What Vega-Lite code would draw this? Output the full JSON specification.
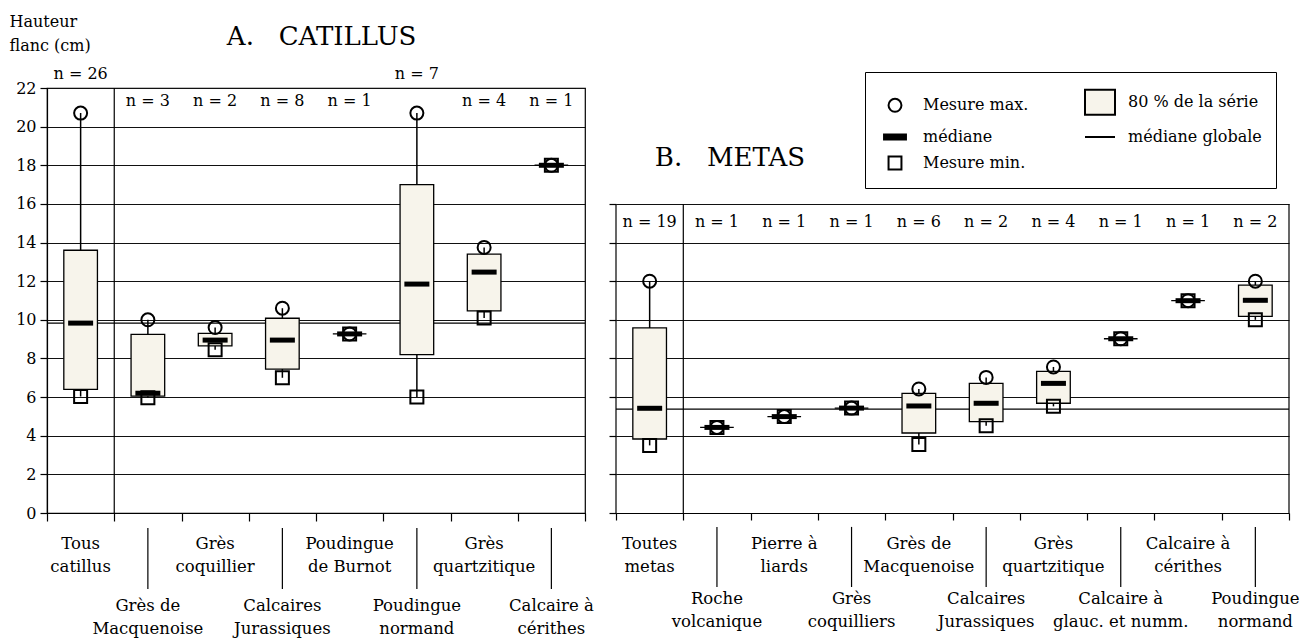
{
  "$schema": "https://vega.github.io/schema/vega-lite/v6.json",
  "padding": {"left": 8, "top": 12, "right": 10, "bottom": 0},
  "background": "white",
  "config": {
    "font": "DejaVu Serif",
    "view": {"stroke": "black", "strokeWidth": 1.2},
    "axis": {"domainColor": "black", "tickColor": "black", "gridColor": "#111111", "gridWidth": 1.1, "domainWidth": 1.2, "tickWidth": 1.2, "labelColor": "black", "titleColor": "black", "labelFont": "DejaVu Serif", "titleFont": "DejaVu Serif", "labelOverlap": false},
    "legend": {"labelFont": "DejaVu Serif"},
    "text": {"font": "DejaVu Serif", "color": "black"}
  },
  "datasets": {
    "catillus": [
      {"ordre": 1, "categorie": "Tous catillus", "etiquette": "Tous\ncatillus", "n": 26, "min": 6.03, "bas": 6.4, "mediane": 9.83, "haut": 13.6, "max": 20.7},
      {"ordre": 2, "categorie": "Grès de Macquenoise", "etiquette": "Grès de\nMacquenoise", "n": 3, "min": 5.97, "bas": 6.05, "mediane": 6.2, "haut": 9.25, "max": 10.0},
      {"ordre": 3, "categorie": "Grès coquillier", "etiquette": "Grès\ncoquillier", "n": 2, "min": 8.45, "bas": 8.65, "mediane": 8.95, "haut": 9.3, "max": 9.6},
      {"ordre": 4, "categorie": "Calcaires Jurassiques", "etiquette": "Calcaires\nJurassiques", "n": 8, "min": 7.0, "bas": 7.45, "mediane": 8.95, "haut": 10.08, "max": 10.6},
      {"ordre": 5, "categorie": "Poudingue de Burnot", "etiquette": "Poudingue\nde Burnot", "n": 1, "min": 9.27, "bas": 9.27, "mediane": 9.27, "haut": 9.27, "max": 9.27},
      {"ordre": 6, "categorie": "Poudingue normand", "etiquette": "Poudingue\nnormand", "n": 7, "min": 6.0, "bas": 8.2, "mediane": 11.85, "haut": 17.0, "max": 20.7},
      {"ordre": 7, "categorie": "Grès quartzitique", "etiquette": "Grès\nquartzitique", "n": 4, "min": 10.1, "bas": 10.46, "mediane": 12.47, "haut": 13.4, "max": 13.75},
      {"ordre": 8, "categorie": "Calcaire à cérithes", "etiquette": "Calcaire à\ncérithes", "n": 1, "min": 18.0, "bas": 18.0, "mediane": 18.0, "haut": 18.0, "max": 18.0}
    ],
    "metas": [
      {"ordre": 1, "categorie": "Toutes metas", "etiquette": "Toutes\nmetas", "n": 19, "min": 3.5, "bas": 3.83, "mediane": 5.42, "haut": 9.58, "max": 12.0},
      {"ordre": 2, "categorie": "Roche volcanique", "etiquette": "Roche\nvolcanique", "n": 1, "min": 4.43, "bas": 4.43, "mediane": 4.43, "haut": 4.43, "max": 4.43},
      {"ordre": 3, "categorie": "Pierre à liards", "etiquette": "Pierre à\nliards", "n": 1, "min": 4.99, "bas": 4.99, "mediane": 4.99, "haut": 4.99, "max": 4.99},
      {"ordre": 4, "categorie": "Grès coquilliers", "etiquette": "Grès\ncoquilliers", "n": 1, "min": 5.43, "bas": 5.43, "mediane": 5.43, "haut": 5.43, "max": 5.43},
      {"ordre": 5, "categorie": "Grès de Macquenoise", "etiquette": "Grès de\nMacquenoise", "n": 6, "min": 3.55, "bas": 4.14, "mediane": 5.54, "haut": 6.19, "max": 6.42},
      {"ordre": 6, "categorie": "Calcaires Jurassiques", "etiquette": "Calcaires\nJurassiques", "n": 2, "min": 4.52, "bas": 4.73, "mediane": 5.68, "haut": 6.71, "max": 7.02},
      {"ordre": 7, "categorie": "Grès quartzitique", "etiquette": "Grès\nquartzitique", "n": 4, "min": 5.52, "bas": 5.68, "mediane": 6.71, "haut": 7.33, "max": 7.56},
      {"ordre": 8, "categorie": "Calcaire à glauc. et numm.", "etiquette": "Calcaire à\nglauc. et numm.", "n": 1, "min": 9.02, "bas": 9.02, "mediane": 9.02, "haut": 9.02, "max": 9.02},
      {"ordre": 9, "categorie": "Calcaire à cérithes", "etiquette": "Calcaire à\ncérithes", "n": 1, "min": 10.99, "bas": 10.99, "mediane": 10.99, "haut": 10.99, "max": 10.99},
      {"ordre": 10, "categorie": "Poudingue normand", "etiquette": "Poudingue\nnormand", "n": 2, "min": 10.0, "bas": 10.18, "mediane": 11.01, "haut": 11.8, "max": 12.0}
    ],
    "globale": [
      {"panneau": "A", "valeur": 9.83},
      {"panneau": "B", "valeur": 5.38}
    ],
    "legende": [
      {"element": "Mesure max."},
      {"element": "médiane"},
      {"element": "Mesure min."},
      {"element": "80 % de la série"},
      {"element": "médiane globale"}
    ]
  },
  "spacing": 31,
  "bounds": "flush",
  "hconcat": [
    {
      "width": 538,
      "height": 425,
      "data": {"name": "catillus"},
      "layer": [
        {
          "data": {"name": "globale"},
          "transform": [{"filter": "datum.panneau == 'A'"}],
          "mark": {"type": "rule", "color": "black", "strokeWidth": 1.2},
          "encoding": {
            "y": {"field": "valeur", "type": "quantitative", "scale": {"domain": [0, 22], "nice": false, "zero": false},
              "axis": {"values": [0, 2, 4, 6, 8, 10, 12, 14, 16, 18, 20, 22], "tickCount": 12, "grid": true, "tickSize": 7, "labelFontSize": 16, "labelPadding": 4, "labelOverlap": false, "title": ["Hauteur", "flanc (cm)"], "titleAngle": 0, "titleAlign": "left", "titleBaseline": "alphabetic", "titleX": -38, "titleY": -62, "titleFontSize": 16, "titleFontWeight": "normal", "titleLineHeight": 24}}
          }
        },
        {
          "transform": [{"filter": "datum.ordre == 2"}],
          "mark": {"type": "rule", "color": "black", "strokeWidth": 1.2},
          "encoding": {
            "x": {"field": "categorie", "type": "nominal", "bandPosition": 0, "title": null,
              "scale": {"domain": ["Tous catillus", "Grès de Macquenoise", "Grès coquillier", "Calcaires Jurassiques", "Poudingue de Burnot", "Poudingue normand", "Grès quartzitique", "Calcaire à cérithes"], "paddingInner": 0, "paddingOuter": 0},
              "axis": {"title": null, "labels": false, "tickBand": "extent", "tickSize": 8, "grid": false, "domain": true}}
          }
        },
        {
          "mark": {"type": "rule", "color": "black", "strokeWidth": 1.5},
          "encoding": {
            "x": {"field": "categorie", "type": "nominal", "title": null},
            "y": {"field": "min", "type": "quantitative"},
            "y2": {"field": "max"}
          }
        },
        {
          "mark": {"type": "bar", "fill": "#f7f4eb", "stroke": "black", "strokeWidth": 1.3, "width": {"band": 0.5}, "opacity": 1},
          "encoding": {
            "x": {"field": "categorie", "type": "nominal", "title": null},
            "y": {"field": "bas", "type": "quantitative"},
            "y2": {"field": "haut"}
          }
        },
        {
          "mark": {"type": "tick", "color": "black", "size": 25, "thickness": 5, "opacity": 1},
          "encoding": {
            "x": {"field": "categorie", "type": "nominal", "title": null},
            "y": {"field": "mediane", "type": "quantitative"}
          }
        },
        {
          "mark": {"type": "point", "shape": "circle", "filled": false, "stroke": "black", "strokeWidth": 2, "size": 169, "opacity": 1},
          "encoding": {
            "x": {"field": "categorie", "type": "nominal", "title": null},
            "y": {"field": "max", "type": "quantitative"}
          }
        },
        {
          "mark": {"type": "point", "shape": "square", "filled": false, "stroke": "black", "strokeWidth": 2, "size": 169, "opacity": 1},
          "encoding": {
            "x": {"field": "categorie", "type": "nominal", "title": null},
            "y": {"field": "min", "type": "quantitative"}
          }
        },
        {
          "transform": [{"filter": "datum.max > 20"}, {"calculate": "'n = ' + datum.n", "as": "libelle_n"}],
          "mark": {"type": "text", "fontSize": 16, "baseline": "alphabetic"},
          "encoding": {
            "x": {"field": "categorie", "type": "nominal", "title": null},
            "y": {"datum": 22.46},
            "text": {"field": "libelle_n"}
          }
        },
        {
          "transform": [{"filter": "datum.max <= 20"}, {"calculate": "'n = ' + datum.n", "as": "libelle_n"}],
          "mark": {"type": "text", "fontSize": 16, "baseline": "alphabetic"},
          "encoding": {
            "x": {"field": "categorie", "type": "nominal", "title": null},
            "y": {"datum": 21.07},
            "text": {"field": "libelle_n"}
          }
        },
        {
          "transform": [{"filter": "datum.ordre % 2 == 1"}],
          "mark": {"type": "text", "fontSize": 16.5, "baseline": "alphabetic", "lineBreak": "\n", "lineHeight": 23},
          "encoding": {
            "x": {"field": "categorie", "type": "nominal", "title": null},
            "y": {"datum": -1.86},
            "text": {"field": "etiquette"}
          }
        },
        {
          "transform": [{"filter": "datum.ordre % 2 == 0"}],
          "mark": {"type": "text", "fontSize": 16.5, "baseline": "alphabetic", "lineBreak": "\n", "lineHeight": 23},
          "encoding": {
            "x": {"field": "categorie", "type": "nominal", "title": null},
            "y": {"datum": -5.07},
            "text": {"field": "etiquette"}
          }
        },
        {
          "transform": [{"filter": "datum.ordre % 2 == 0"}],
          "mark": {"type": "rule", "color": "black", "strokeWidth": 1.2},
          "encoding": {
            "x": {"field": "categorie", "type": "nominal", "title": null},
            "y": {"datum": -0.78},
            "y2": {"datum": -3.93}
          }
        },
        {
          "data": {"values": [{"titre": "A.\u00a0\u00a0\u00a0CATILLUS"}]},
          "mark": {"type": "text", "fontSize": 26, "baseline": "alphabetic", "dx": -28},
          "encoding": {
            "x": {"datum": "Poudingue de Burnot"},
            "y": {"datum": 24.22},
            "text": {"field": "titre"}
          }
        }
      ]
    },
    {
      "width": 673,
      "height": 425,
      "view": {"stroke": null},
      "data": {"name": "metas"},
      "layer": [
        {
          "data": {"name": "globale"},
          "transform": [{"filter": "datum.panneau == 'B'"}],
          "mark": {"type": "rule", "color": "black", "strokeWidth": 1.2},
          "encoding": {
            "y": {"field": "valeur", "type": "quantitative", "title": null, "scale": {"domain": [0, 22], "nice": false, "zero": false},
              "axis": {"values": [0, 2, 4, 6, 8, 10, 12, 14, 16], "tickCount": 12, "grid": true, "tickSize": 7, "labels": false, "domain": false, "title": null}}
          }
        },
        {
          "transform": [{"filter": "datum.ordre <= 2"}],
          "mark": {"type": "rule", "color": "black", "strokeWidth": 1.2},
          "encoding": {
            "x": {"field": "categorie", "type": "nominal", "bandPosition": 0, "title": null,
              "scale": {"domain": ["Toutes metas", "Roche volcanique", "Pierre à liards", "Grès coquilliers", "Grès de Macquenoise", "Calcaires Jurassiques", "Grès quartzitique", "Calcaire à glauc. et numm.", "Calcaire à cérithes", "Poudingue normand"], "paddingInner": 0, "paddingOuter": 0},
              "axis": {"title": null, "labels": false, "tickBand": "extent", "tickSize": 7, "grid": false, "domain": true}},
            "y": {"datum": 0},
            "y2": {"datum": 16}
          }
        },
        {
          "transform": [{"filter": "datum.ordre == 10"}],
          "mark": {"type": "rule", "color": "black", "strokeWidth": 1.2},
          "encoding": {
            "x": {"field": "categorie", "type": "nominal", "bandPosition": 1, "title": null},
            "y": {"datum": 0},
            "y2": {"datum": 16}
          }
        },
        {
          "mark": {"type": "rule", "color": "black", "strokeWidth": 1.5},
          "encoding": {
            "x": {"field": "categorie", "type": "nominal", "title": null},
            "y": {"field": "min", "type": "quantitative", "title": null},
            "y2": {"field": "max"}
          }
        },
        {
          "mark": {"type": "bar", "fill": "#f7f4eb", "stroke": "black", "strokeWidth": 1.3, "width": {"band": 0.5}, "opacity": 1},
          "encoding": {
            "x": {"field": "categorie", "type": "nominal", "title": null},
            "y": {"field": "bas", "type": "quantitative", "title": null},
            "y2": {"field": "haut"}
          }
        },
        {
          "mark": {"type": "tick", "color": "black", "size": 25, "thickness": 5, "opacity": 1},
          "encoding": {
            "x": {"field": "categorie", "type": "nominal", "title": null},
            "y": {"field": "mediane", "type": "quantitative", "title": null}
          }
        },
        {
          "mark": {"type": "point", "shape": "circle", "filled": false, "stroke": "black", "strokeWidth": 2, "size": 169, "opacity": 1},
          "encoding": {
            "x": {"field": "categorie", "type": "nominal", "title": null},
            "y": {"field": "max", "type": "quantitative", "title": null}
          }
        },
        {
          "mark": {"type": "point", "shape": "square", "filled": false, "stroke": "black", "strokeWidth": 2, "size": 169, "opacity": 1},
          "encoding": {
            "x": {"field": "categorie", "type": "nominal", "title": null},
            "y": {"field": "min", "type": "quantitative", "title": null}
          }
        },
        {
          "transform": [{"calculate": "'n = ' + datum.n", "as": "libelle_n"}],
          "mark": {"type": "text", "fontSize": 16, "baseline": "alphabetic"},
          "encoding": {
            "x": {"field": "categorie", "type": "nominal", "title": null},
            "y": {"datum": 14.8},
            "text": {"field": "libelle_n"}
          }
        },
        {
          "transform": [{"filter": "datum.ordre % 2 == 1"}],
          "mark": {"type": "text", "fontSize": 16.5, "baseline": "alphabetic", "lineBreak": "\n", "lineHeight": 23},
          "encoding": {
            "x": {"field": "categorie", "type": "nominal", "title": null},
            "y": {"datum": -1.86},
            "text": {"field": "etiquette"}
          }
        },
        {
          "transform": [{"filter": "datum.ordre % 2 == 0"}],
          "mark": {"type": "text", "fontSize": 16.5, "baseline": "alphabetic", "lineBreak": "\n", "lineHeight": 23},
          "encoding": {
            "x": {"field": "categorie", "type": "nominal", "title": null},
            "y": {"datum": -4.7},
            "text": {"field": "etiquette"}
          }
        },
        {
          "transform": [{"filter": "datum.ordre % 2 == 0"}],
          "mark": {"type": "rule", "color": "black", "strokeWidth": 1.2},
          "encoding": {
            "x": {"field": "categorie", "type": "nominal", "title": null},
            "y": {"datum": -0.72},
            "y2": {"datum": -3.83}
          }
        },
        {
          "data": {"values": [{"titre": "B.\u00a0\u00a0\u00a0METAS"}]},
          "mark": {"type": "text", "fontSize": 26, "baseline": "alphabetic", "dx": 13},
          "encoding": {
            "x": {"datum": "Roche volcanique"},
            "y": {"datum": 17.96},
            "text": {"field": "titre"}
          }
        },
        {
          "data": {"name": "legende"},
          "mark": {"type": "point", "opacity": 0, "filled": true, "strokeWidth": 2},
          "encoding": {
            "shape": {"field": "element", "type": "nominal", "title": null,
              "scale": {"domain": ["Mesure max.", "médiane", "Mesure min.", "80 % de la série", "médiane globale"],
                "range": ["M0.43,0A0.43,0.43,0,1,1,-0.43,0A0.43,0.43,0,1,1,0.43,0Z", "M-0.73,-0.17H0.73V0.17H-0.73Z", "M-0.43,-0.43H0.43V0.43H-0.43Z", "M-1,-0.83H1V0.83H-1Z", "M-1,0H1"]},
              "legend": {"orient": "none", "legendX": 818, "legendY": -16, "columns": 2, "strokeColor": "black", "fillColor": "white", "padding": 14, "symbolSize": 900, "symbolStrokeWidth": 2, "symbolOpacity": 1, "labelFontSize": 16, "labelColor": "black", "labelOffset": 12, "columnPadding": 52, "rowPadding": 2, "labelLimit": 300}},
            "fill": {"field": "element", "type": "nominal", "title": null,
              "scale": {"domain": ["Mesure max.", "médiane", "Mesure min.", "80 % de la série", "médiane globale"], "range": ["white", "black", "white", "#f7f4eb", "white"]},
              "legend": {"orient": "none", "legendX": 818, "legendY": -16, "columns": 2, "strokeColor": "black", "fillColor": "white", "padding": 14, "symbolSize": 900, "symbolStrokeWidth": 2, "symbolOpacity": 1, "labelFontSize": 16, "labelColor": "black", "labelOffset": 12, "columnPadding": 52, "rowPadding": 2, "labelLimit": 300}},
            "stroke": {"field": "element", "type": "nominal", "title": null,
              "scale": {"domain": ["Mesure max.", "médiane", "Mesure min.", "80 % de la série", "médiane globale"], "range": ["black", "black", "black", "black", "black"]},
              "legend": {"orient": "none", "legendX": 818, "legendY": -16, "columns": 2, "strokeColor": "black", "fillColor": "white", "padding": 14, "symbolSize": 900, "symbolStrokeWidth": 2, "symbolOpacity": 1, "labelFontSize": 16, "labelColor": "black", "labelOffset": 12, "columnPadding": 52, "rowPadding": 2, "labelLimit": 300}}
          }
        }
      ]
    }
  ]
}
